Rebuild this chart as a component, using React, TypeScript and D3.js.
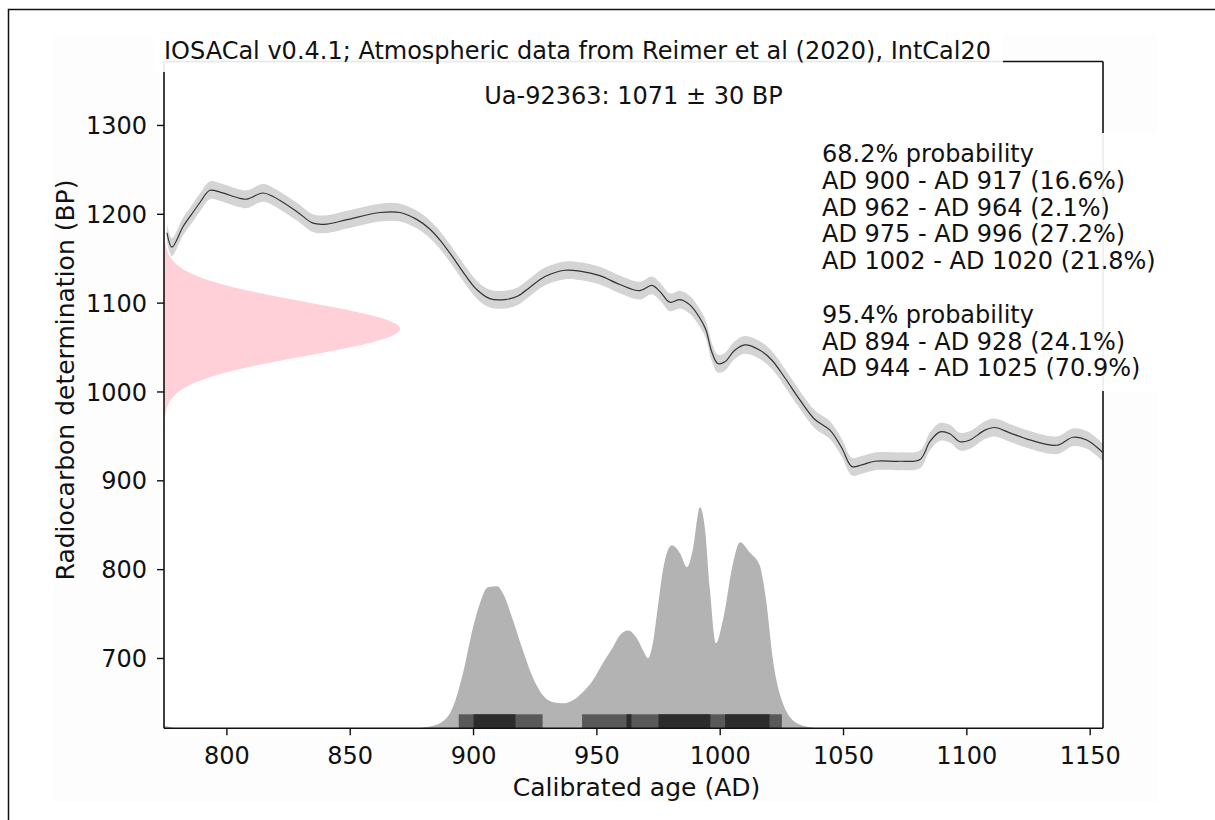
import React from "react";
import * as d3 from "d3";

// ---------- data ----------
const calAD = [775.7, 777.7, 782.2, 786.2, 789, 793.1, 797.2, 805.3, 808.1, 814.6, 818.7, 828.4, 834.9, 840.6, 848.7, 862.1, 870.2, 877.1, 882, 886.4, 891, 896.5, 901.4, 906.6, 912.7, 918, 922.9, 929, 937.1, 943.1, 951.2, 959.3, 967.4, 972.3, 975.6, 979.6, 983.7, 987.7, 991.8, 994.2, 996.6, 999, 1001.9, 1005.9, 1010, 1016.1, 1020.9, 1026.2, 1032.3, 1038.4, 1044.5, 1049.3, 1053.4, 1057.4, 1062.7, 1072.8, 1081, 1085, 1089.1, 1093.1, 1097.2, 1101.3, 1107.3, 1111.3, 1117.4, 1125.5, 1136.5, 1143, 1148.6, 1153.9, 1155];
const calBP = [1179, 1163, 1186, 1202, 1213, 1227, 1225, 1218, 1217, 1224, 1220, 1203, 1190, 1189, 1194, 1202, 1202, 1194, 1184, 1171, 1154, 1132, 1115, 1105, 1104, 1108, 1118, 1130, 1137, 1136, 1131, 1121, 1114, 1120, 1113, 1101, 1104, 1098, 1083, 1070, 1045, 1032, 1034, 1047, 1053, 1047, 1036, 1016, 991, 969, 957, 937, 916, 918, 922, 922, 924, 944, 955, 953, 944, 946, 957, 960, 954, 946, 940, 949, 946, 935, 932];
const calSigma = 10;

const densityAD = [774.5, 776, 778, 780, 876, 881, 886.4, 891.6, 895.7, 899.8, 902.6, 905.8, 909.5, 911.9, 916, 920, 924, 928.1, 932.2, 936.2, 940.3, 944.3, 948.4, 952.4, 956.5, 959.3, 962.6, 966.2, 968.7, 970.7, 972.7, 974.7, 976.8, 980.4, 983.7, 986.5, 989, 991.8, 993.8, 995.8, 998.3, 1001.1, 1005.2, 1008, 1012, 1016, 1018.5, 1021.4, 1025.4, 1031.1, 1036.4, 1040];
const densityP = [0.012, 0.008, 0.003, 0, 0, 0.006, 0.023, 0.095, 0.249, 0.457, 0.566, 0.638, 0.643, 0.611, 0.489, 0.353, 0.231, 0.149, 0.118, 0.113, 0.127, 0.163, 0.217, 0.294, 0.367, 0.421, 0.443, 0.407, 0.353, 0.317, 0.385, 0.548, 0.715, 0.828, 0.792, 0.729, 0.814, 1, 0.905, 0.633, 0.385, 0.489, 0.747, 0.842, 0.796, 0.738, 0.588, 0.308, 0.113, 0.023, 0.005, 0];

const range68 = [[900, 917], [962, 964], [975, 996], [1002, 1020]];
const range95 = [[894, 928], [944, 1025]];
const range68Pct = ["16.6%", "2.1%", "27.2%", "21.8%"];
const range95Pct = ["24.1%", "70.9%"];

const measuredBP = 1071;
const measuredErr = 30;
const sampleName = "Ua-92363";

const xTicks = [800, 850, 900, 950, 1000, 1050, 1100, 1150];
const yTicks = [700, 800, 900, 1000, 1100, 1200, 1300];

const titleText = "IOSACal v0.4.1; Atmospheric data from Reimer et al (2020), IntCal20";
const xLabel = "Calibrated age (AD)";
const yLabel = "Radiocarbon determination (BP)";

// ---------- layout ----------
const W = 1215, H = 820;
const L = 164, R = 1103, T = 61.5, B = 728.3;
const FONT = "DejaVu Sans";
const FS = 24;
const FS_LABEL = 25;

export default function App() {
  const x = d3.scaleLinear().domain([774.5, 1155.2]).range([L, R]);
  const y = d3.scaleLinear().domain([621.4, 1372]).range([B, T]);
  const dens = d3.scaleLinear().domain([0, 1]).range([B, B - 221]);

  const calPts = calAD.map((a, i) => ({ a, b: calBP[i] }));
  const band = d3.area<any>().x(d => x(d.a)).y0(d => y(d.b - calSigma)).y1(d => y(d.b + calSigma)).curve(d3.curveCatmullRom);
  const line = d3.line<any>().x(d => x(d.a)).y(d => y(d.b)).curve(d3.curveCatmullRom);

  const densPts = densityAD.map((a, i) => ({ a, p: densityP[i] }));
  const densArea = d3.area<any>().x(d => x(d.a)).y0(B).y1(d => dens(d.p)).curve(d3.curveMonotoneX);

  // measurement normal distribution along the y axis
  const gPts = d3.range(measuredBP - 4 * measuredErr, measuredBP + 4 * measuredErr + 0.5, 1).map(bp => ({
    bp,
    g: Math.exp(-0.5 * ((bp - measuredBP) / measuredErr) ** 2),
  }));
  const gScale = d3.scaleLinear().domain([0, 1]).range([L, L + 236]);
  const gArea = d3.area<any>().y(d => y(d.bp)).x0(L).x1(d => gScale(d.g)).curve(d3.curveLinear);

  const barH = 14;
  const lines1 = ["68.2% probability", ...range68.map((r, i) => `AD ${r[0]} - AD ${r[1]} (${range68Pct[i]})`)];
  const lines2 = ["95.4% probability", ...range95.map((r, i) => `AD ${r[0]} - AD ${r[1]} (${range95Pct[i]})`)];
  const lh = 26.8;

  return (
    <svg width={W} height={H} style={{ position: "absolute", left: 0, top: 0, background: "#fff" }} fontFamily={FONT}>
      <rect x={0} y={0} width={W} height={H} fill="#fff" />
      <rect x={53} y={35} width={1104} height={767} fill="#fdfdfd" />
      <rect x={8.5} y={9.5} width={W} height={H} fill="none" stroke="#111" strokeWidth={1.5} />

      <clipPath id="plotclip"><rect x={L} y={T} width={R - L} height={B - T} /></clipPath>
      <g clipPath="url(#plotclip)">
        <rect x={L} y={T} width={R - L} height={B - T} fill="#fff" />
        <path d={gArea(gPts) || ""} fill="#ffc0cb" fillOpacity={0.75} />
        <path d={band(calPts) || ""} fill="#d4d4d4" />
        <path d={line(calPts) || ""} fill="none" stroke="#333" strokeWidth={1.2} />
        <path d={densArea(densPts) || ""} fill="#b3b3b3" />
        {range95.map((r, i) => (
          <rect key={"r95" + i} x={x(r[0])} y={B - barH} width={x(r[1]) - x(r[0])} height={barH} fill="#595959" />
        ))}
        {range68.map((r, i) => (
          <rect key={"r68" + i} x={x(r[0])} y={B - barH} width={x(r[1]) - x(r[0])} height={barH} fill="#2c2c2c" />
        ))}
      </g>

      {/* spines */}
      <g stroke="#111" strokeWidth={1.6} fill="none">
        <line x1={L} y1={T} x2={L} y2={B} />
        <line x1={L} y1={B} x2={R} y2={B} />
        <line x1={R} y1={T} x2={R} y2={B} />
        <line x1={L} y1={T} x2={R} y2={T} />
      </g>

      {/* ticks */}
      {xTicks.map(t => (
        <g key={"xt" + t}>
          <line x1={x(t)} x2={x(t)} y1={B} y2={B + 7} stroke="#111" strokeWidth={1.4} />
          <text x={x(t)} y={764} textAnchor="middle" fontSize={FS} fill="#111">{t}</text>
        </g>
      ))}
      {yTicks.map(t => (
        <g key={"yt" + t}>
          <line x1={L - 7} x2={L} y1={y(t)} y2={y(t)} stroke="#111" strokeWidth={1.4} />
          <text x={147} y={y(t) + 8.6} textAnchor="end" fontSize={FS} fill="#111">{t}</text>
        </g>
      ))}

      {/* axis labels */}
      <text x={(L + R) / 2 + 3} y={796} textAnchor="middle" fontSize={FS_LABEL} fill="#111">{xLabel}</text>
      <text transform={`translate(74,380) rotate(-90)`} textAnchor="middle" fontSize={FS_LABEL} fill="#111">{yLabel}</text>

      {/* title with white box */}
      <rect x={153} y={31} width={850} height={41} fill="#fff" fillOpacity={0.9} />
      <text x={L} y={59} fontSize={FS} fill="#111">{titleText}</text>

      <text x={(L + R) / 2} y={104} textAnchor="middle" fontSize={FS} fill="#111">{`${sampleName}: ${measuredBP} ± ${measuredErr} BP`}</text>

      {/* ranges text box */}
      <rect x={813} y={133} width={350} height={258} fill="#fff" fillOpacity={0.92} />
      {lines1.map((s, i) => (
        <text key={"l1" + i} x={822} y={162 + i * lh} fontSize={FS} fill="#111">{s}</text>
      ))}
      {lines2.map((s, i) => (
        <text key={"l2" + i} x={822} y={162 + (i + 6) * lh} fontSize={FS} fill="#111">{s}</text>
      ))}
    </svg>
  );
}
